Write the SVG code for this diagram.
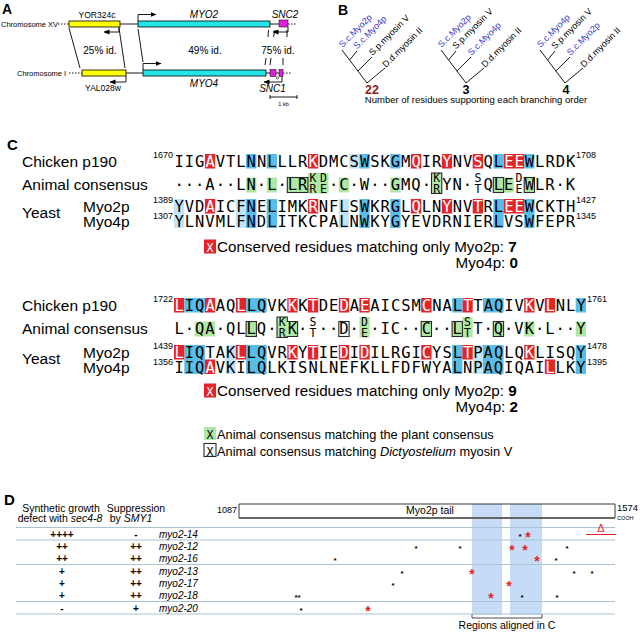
<svg xmlns="http://www.w3.org/2000/svg" width="640" height="634" viewBox="0 0 640 634">
<defs>
<style>
.s{font-family:"Liberation Sans",Arial,sans-serif}
.hd{font-family:"Liberation Sans",Arial,sans-serif;font-weight:bold}
.lbl{font-family:"Liberation Sans",Arial,sans-serif;font-size:15.5px}
.leg{font-family:"Liberation Sans",Arial,sans-serif;font-size:15.2px}
.seq{font-family:"DejaVu Sans Mono",monospace;font-size:15.5px;letter-spacing:0.968px}
.stk{font-family:"DejaVu Sans Mono",monospace;font-size:11.5px;text-anchor:middle}
.sup{font-family:"Liberation Sans",Arial,sans-serif;font-size:9px}
.r{fill:#e5242a}
.db{fill:#58bde9}
.lb{fill:#c4e3f7}
.g{fill:#afe8a5}
.bx{fill:none;stroke:#2a2a2a;stroke-width:1.1}
.w{fill:#fff}
.ln{stroke:#000;stroke-width:0.9;fill:none}
.tl{font-family:"Liberation Sans",Arial,sans-serif;font-size:9px}
.bl{fill:#3a3ac8}
.tb{stroke:#a9c3d3;stroke-width:1}
.d{font-family:"Liberation Sans",Arial,sans-serif;font-size:10.5px}
.pm{font-family:"Liberation Sans",Arial,sans-serif;font-size:10px;font-weight:bold;text-anchor:middle}
.al{font-family:"Liberation Sans",Arial,sans-serif;font-size:10px;font-style:italic}
.ka{font-family:"Liberation Sans",Arial,sans-serif;font-size:8px;text-anchor:middle;font-weight:bold}
.ra{font-family:"Liberation Sans",Arial,sans-serif;font-size:14px;text-anchor:middle;fill:#e5242a;font-weight:bold}
</style>
<marker id="ah" markerWidth="6" markerHeight="6" refX="5.5" refY="3" orient="auto" markerUnits="userSpaceOnUse"><path d="M0,0.6 L6,3 L0,5.4 Z" fill="#000"/></marker>
</defs>
<rect width="640" height="634" fill="#fff"/>

<!-- Panel A -->
<g id="panelA">
<text x="2" y="14" class="hd" font-size="14">A</text>
<g id="chrXV">
<text x="1" y="27" class="s" font-size="7.5">Chromosome XV</text>
<line x1="58" y1="24" x2="69" y2="24" class="ln" stroke-dasharray="1.5,1.5"/>
<line x1="120" y1="24" x2="138" y2="24" class="ln"/>
<line x1="270" y1="24" x2="279" y2="24" class="ln"/>
<line x1="288" y1="24" x2="297" y2="24" class="ln" stroke-dasharray="1.5,1.5"/>
<rect x="69" y="21" width="51" height="6" fill="#ffff00" stroke="#000" stroke-width="0.8"/>
<rect x="138" y="21" width="132" height="6" fill="#22e6e6" stroke="#000" stroke-width="0.8"/>
<rect x="279" y="20" width="9" height="7" fill="#e21ee2" stroke="#000" stroke-width="0.5"/>
<text x="97" y="18" class="s" font-size="8.5" text-anchor="middle">YOR324c</text>
<text x="204" y="18" class="s" font-size="10" font-style="italic" text-anchor="middle">MYO2</text>
<text x="285" y="18" class="s" font-size="10" font-style="italic" text-anchor="middle">SNC2</text>
<path d="M138,21 V14.5 H156" class="ln" marker-end="url(#ah)"/>
<path d="M119,27 V32 H104" class="ln" marker-end="url(#ah)"/>
<path d="M288,27 V32 H273" class="ln" marker-end="url(#ah)"/>
</g>
<g id="chrI">
<text x="17" y="76" class="s" font-size="7.5">Chromosome I</text>
<line x1="69" y1="73" x2="82" y2="73" class="ln" stroke-dasharray="1.5,1.5"/>
<line x1="126" y1="73" x2="143" y2="73" class="ln"/>
<line x1="266" y1="73" x2="283" y2="73" class="ln"/>
<line x1="283" y1="73" x2="292" y2="73" class="ln" stroke-dasharray="1.5,1.5"/>
<rect x="82" y="70" width="44" height="6" fill="#ffff00" stroke="#000" stroke-width="0.8"/>
<rect x="143" y="70" width="123" height="6" fill="#22e6e6" stroke="#000" stroke-width="0.8"/>
<rect x="270" y="69.5" width="6" height="7" fill="#e21ee2" stroke="#000" stroke-width="0.5"/>
<rect x="279" y="69.5" width="4" height="7" fill="#e21ee2" stroke="#000" stroke-width="0.5"/>
<circle cx="277.5" cy="78" r="1.2" fill="#fff" stroke="#000" stroke-width="0.5"/>
<text x="103" y="91" class="s" font-size="8.5" text-anchor="middle">YAL028w</text>
<text x="204" y="87" class="s" font-size="10" font-style="italic" text-anchor="middle">MYO4</text>
<text x="272.5" y="91.5" class="s" font-size="10" font-style="italic" text-anchor="middle">SNC1</text>
<path d="M143,70 V63.5 H161" class="ln" marker-end="url(#ah)"/>
<path d="M126,76 V82 H110" class="ln" marker-end="url(#ah)"/>
<path d="M282,76.5 V82 H264" class="ln" marker-end="url(#ah)"/>
</g>
<g id="homology">
<line x1="69" y1="28" x2="80" y2="68" class="ln" stroke-width="0.7"/>
<line x1="119" y1="28" x2="125" y2="68" class="ln" stroke-width="0.7"/>
<line x1="138" y1="29" x2="143" y2="62" class="ln" stroke-width="0.7"/>
<line x1="268.5" y1="30" x2="268" y2="37" class="ln" stroke-width="0.7"/>
<line x1="275" y1="30" x2="273.5" y2="37" class="ln" stroke-width="0.7"/>
<line x1="287" y1="30" x2="287" y2="37" class="ln" stroke-width="0.7"/>
<line x1="266" y1="58" x2="265" y2="65" class="ln" stroke-width="0.7"/>
<line x1="271" y1="58" x2="270" y2="65" class="ln" stroke-width="0.7"/>
<line x1="283" y1="58" x2="283" y2="65" class="ln" stroke-width="0.7"/>
<text x="100" y="53.5" class="s" font-size="10" text-anchor="middle">25% id.</text>
<text x="205" y="53.5" class="s" font-size="10" text-anchor="middle">49% id.</text>
<text x="278" y="53.5" class="s" font-size="10" text-anchor="middle">75% id.</text>
</g>
<g id="scalebar">
<path d="M270,95 V99 M270,97 H297 M297,95 V99" class="ln" stroke-width="0.7"/>
<text x="283.5" y="106" class="s" font-size="5.5" text-anchor="middle">1 kb</text>
</g>
</g>

<!-- Panel B -->
<g id="panelB">
<text x="338" y="15" class="hd" font-size="14">B</text>
<g id="tree1">
<path d="M342,50 L367,83 L385,68 M349.6,60 L357,51 M357.9,71 L372,57" class="ln"/>
<text transform="translate(342.5,48) rotate(-45)" class="tl bl">S.c.Myo2p</text>
<text transform="translate(357,49.5) rotate(-45)" class="tl bl">S.c.Myo4p</text>
<text transform="translate(372.5,56) rotate(-45)" class="tl">S.p.myosin V</text>
<text transform="translate(386,68) rotate(-45)" class="tl">D.d.myosin II</text>
<text x="372" y="93.5" class="hd" font-size="12.5" text-anchor="middle" fill="#8b1c1c">22</text>
</g>
<g id="tree2">
<path d="M441,50 L466,83 L484,68 M448.6,60 L456,51 M456.9,71 L471,57" class="ln"/>
<text transform="translate(441.5,48) rotate(-45)" class="tl bl">S.c.Myo2p</text>
<text transform="translate(456,49.5) rotate(-45)" class="tl">S.p.myosin V</text>
<text transform="translate(471.5,56) rotate(-45)" class="tl bl">S.c.Myo4p</text>
<text transform="translate(485,68) rotate(-45)" class="tl">D.d.myosin II</text>
<text x="466" y="93.5" class="hd" font-size="12.5" text-anchor="middle">3</text>
</g>
<g id="tree3">
<path d="M540,50 L565,83 L583,68 M547.6,60 L555,51 M555.9,71 L570,57" class="ln"/>
<text transform="translate(540.5,48) rotate(-45)" class="tl bl">S.c.Myo4p</text>
<text transform="translate(555,49.5) rotate(-45)" class="tl">S.p.myosin V</text>
<text transform="translate(570.5,56) rotate(-45)" class="tl bl">S.c.Myo2p</text>
<text transform="translate(584,68) rotate(-45)" class="tl">D.d.myosin II</text>
<text x="566" y="93.5" class="hd" font-size="12.5" text-anchor="middle">4</text>
</g>
<text x="476" y="102.5" class="s" font-size="9.5" text-anchor="middle">Number of residues supporting each branching order</text>
</g>

<!-- Panel C -->
<g id="panelC">
<text x="7" y="150" class="hd" font-size="15">C</text>

<g id="block1">
<text x="22" y="167.3" class="lbl">Chicken p190</text>
<text x="22" y="189.5" class="lbl">Animal consensus</text>
<text x="22" y="218" class="lbl">Yeast</text>
<text x="83" y="211.5" class="lbl">Myo2p</text>
<text x="83" y="227" class="lbl">Myo4p</text>
<text x="173" y="158" class="sup" text-anchor="end">1670</text>
<text x="173" y="203" class="sup" text-anchor="end">1389</text>
<text x="173" y="219" class="sup" text-anchor="end">1307</text>
<text x="576" y="158" class="sup">1708</text>
<text x="576" y="203" class="sup">1427</text>
<text x="576" y="219" class="sup">1345</text>
<g>
<rect class="r" x="204.9" y="154" width="10.3" height="14.5"/>
<rect class="r" x="307.9" y="154" width="10.3" height="14.5"/>
<rect class="r" x="410.9" y="154" width="10.3" height="14.5"/>
<rect class="r" x="441.8" y="154" width="10.3" height="14.5"/>
<rect class="r" x="472.7" y="154" width="10.3" height="14.5"/>
<rect class="r" x="503.6" y="154" width="20.6" height="14.5"/>
<rect class="db" x="246.1" y="154" width="10.3" height="14.5"/>
<rect class="db" x="266.7" y="154" width="10.3" height="14.5"/>
<rect class="lb" x="349.1" y="154" width="10.3" height="14.5"/>
<rect class="db" x="359.4" y="154" width="10.3" height="14.5"/>
<rect class="db" x="390.3" y="154" width="10.3" height="14.5"/>
<rect class="db" x="493.3" y="154" width="10.3" height="14.5"/>
<rect class="db" x="524.2" y="154" width="10.3" height="14.5"/>
</g>
<g>
<rect class="lb" x="174" y="199" width="10.3" height="29"/>
<rect class="lb" x="235.8" y="199" width="10.3" height="29"/>
<rect class="lb" x="338.8" y="199" width="10.3" height="29"/>
<rect class="db" x="246.1" y="199" width="10.3" height="29"/>
<rect class="db" x="266.7" y="199" width="10.3" height="29"/>
<rect class="db" x="359.4" y="199" width="10.3" height="29"/>
<rect class="db" x="390.3" y="199" width="10.3" height="29"/>
<rect class="db" x="493.3" y="199" width="10.3" height="29"/>
<rect class="db" x="524.2" y="199" width="10.3" height="29"/>
<rect class="r" x="204.9" y="199" width="10.3" height="14.5"/>
<rect class="r" x="307.9" y="199" width="10.3" height="14.5"/>
<rect class="r" x="410.9" y="199" width="10.3" height="14.5"/>
<rect class="r" x="441.8" y="199" width="10.3" height="14.5"/>
<rect class="r" x="472.7" y="199" width="10.3" height="14.5"/>
<rect class="r" x="503.6" y="199" width="20.6" height="14.5"/>
</g>
<g>
<rect class="g" x="246.1" y="177.5" width="10.3" height="15"/>
<rect class="g" x="266.7" y="177.5" width="10.3" height="15"/>
<rect class="g" x="287.3" y="177.5" width="20.6" height="15"/>
<rect class="g" x="307.9" y="173" width="20.6" height="20.5"/>
<rect class="g" x="338.8" y="177.5" width="10.3" height="15"/>
<rect class="g" x="390.3" y="177.5" width="10.3" height="15"/>
<rect class="g" x="431.5" y="173" width="10.3" height="20.5"/>
<rect class="g" x="493.3" y="177.5" width="20.6" height="15"/>
<rect class="g" x="524.2" y="177.5" width="10.3" height="15"/>
<rect class="bx" x="287.3" y="177.5" width="20.6" height="15"/>
<rect class="bx" x="431.5" y="173" width="10.3" height="20.5"/>
<rect class="bx" x="493.3" y="177.5" width="10.3" height="15"/>
<rect class="bx" x="524.2" y="177.5" width="10.3" height="15"/>
</g>
<text x="174.48" y="167.3" class="seq">IIG<tspan class="w">A</tspan>VTLNNLLLR<tspan class="w">K</tspan>DMCSWSKGM<tspan class="w">Q</tspan>IR<tspan class="w">Y</tspan>NV<tspan class="w">S</tspan>QL<tspan class="w">EE</tspan>WLRDK</text>
<text x="174.48" y="190" class="seq" xml:space="preserve">···A··LN·L·LR&#160;&#160;·C·W··GMQ·&#160;YN·&#160;QLE&#160;WLR·K</text>
<text x="174.48" y="211.5" class="seq">YVD<tspan class="w">A</tspan>ICFNELIMK<tspan class="w">R</tspan>NFLSWKRGL<tspan class="w">Q</tspan>LN<tspan class="w">Y</tspan>NV<tspan class="w">T</tspan>RL<tspan class="w">EE</tspan>WCKTH</text>
<text x="174.48" y="227" class="seq">YLNVMLFNDLITKCPALNWKYGYEVDRNIERLVSWFEPR</text>
<g class="stk">
<text x="313.05" y="182">K</text><text x="313.05" y="193">R</text>
<text x="323.35" y="182">D</text><text x="323.35" y="193">E</text>
<text x="436.65" y="182">K</text><text x="436.65" y="193">R</text>
<text x="477.85" y="182">S</text><text x="477.85" y="193">T</text>
<text x="519.05" y="182">D</text><text x="519.05" y="193">E</text>
</g>
<rect class="r" x="204" y="239.5" width="12" height="14"/>
<text x="210" y="251.5" class="stk w" font-size="14">X</text>
<text x="217" y="251.5" class="leg">Conserved residues matching only Myo2p: <tspan font-weight="bold">7</tspan></text>
<text x="518" y="268" class="leg" text-anchor="end">Myo4p: <tspan font-weight="bold">0</tspan></text>
</g>

<g id="block2">
<text x="22" y="311.3" class="lbl">Chicken p190</text>
<text x="22" y="333.5" class="lbl">Animal consensus</text>
<text x="22" y="364" class="lbl">Yeast</text>
<text x="83" y="357.5" class="lbl">Myo2p</text>
<text x="83" y="373" class="lbl">Myo4p</text>
<text x="173" y="302" class="sup" text-anchor="end">1722</text>
<text x="173" y="349" class="sup" text-anchor="end">1439</text>
<text x="173" y="365" class="sup" text-anchor="end">1356</text>
<text x="587" y="302" class="sup">1761</text>
<text x="587" y="349" class="sup">1478</text>
<text x="587" y="365" class="sup">1395</text>
<g>
<rect class="r" x="174" y="298" width="10.3" height="14.5"/>
<rect class="r" x="204.9" y="298" width="10.3" height="14.5"/>
<rect class="r" x="235.8" y="298" width="10.3" height="14.5"/>
<rect class="r" x="287.3" y="298" width="10.3" height="14.5"/>
<rect class="r" x="307.9" y="298" width="10.3" height="14.5"/>
<rect class="r" x="338.8" y="298" width="10.3" height="14.5"/>
<rect class="r" x="359.4" y="298" width="10.3" height="14.5"/>
<rect class="r" x="421.2" y="298" width="10.3" height="14.5"/>
<rect class="r" x="462.4" y="298" width="10.3" height="14.5"/>
<rect class="r" x="524.2" y="298" width="10.3" height="14.5"/>
<rect class="r" x="544.8" y="298" width="10.3" height="14.5"/>
<rect class="db" x="184.3" y="298" width="20.6" height="14.5"/>
<rect class="db" x="246.1" y="298" width="20.6" height="14.5"/>
<rect class="db" x="452.1" y="298" width="10.3" height="14.5"/>
<rect class="db" x="483" y="298" width="20.6" height="14.5"/>
<rect class="db" x="575.7" y="298" width="10.3" height="14.5"/>
</g>
<g>
<rect class="db" x="184.3" y="345" width="20.6" height="29"/>
<rect class="db" x="246.1" y="345" width="20.6" height="29"/>
<rect class="db" x="452.1" y="345" width="10.3" height="29"/>
<rect class="db" x="483" y="345" width="20.6" height="29"/>
<rect class="db" x="575.7" y="345" width="10.3" height="29"/>
<rect class="lb" x="225.5" y="345" width="10.3" height="29"/>
<rect class="lb" x="472.7" y="345" width="10.3" height="29"/>
<rect class="r" x="174" y="345" width="10.3" height="14.5"/>
<rect class="r" x="235.8" y="345" width="10.3" height="14.5"/>
<rect class="r" x="287.3" y="345" width="10.3" height="14.5"/>
<rect class="r" x="307.9" y="345" width="10.3" height="14.5"/>
<rect class="r" x="338.8" y="345" width="10.3" height="14.5"/>
<rect class="r" x="359.4" y="345" width="10.3" height="14.5"/>
<rect class="r" x="421.2" y="345" width="10.3" height="14.5"/>
<rect class="r" x="462.4" y="345" width="10.3" height="14.5"/>
<rect class="r" x="524.2" y="345" width="10.3" height="14.5"/>
<rect class="r" x="204.9" y="359.5" width="10.3" height="14.5"/>
<rect class="r" x="544.8" y="359.5" width="10.3" height="14.5"/>
</g>
<g>
<rect class="g" x="194.6" y="321.5" width="20.6" height="15"/>
<rect class="g" x="246.1" y="321.5" width="10.3" height="15"/>
<rect class="g" x="277" y="317" width="10.3" height="20.5"/>
<rect class="g" x="287.3" y="321.5" width="10.3" height="15"/>
<rect class="g" x="359.4" y="317" width="10.3" height="20.5"/>
<rect class="g" x="421.2" y="321.5" width="10.3" height="15"/>
<rect class="g" x="452.1" y="321.5" width="10.3" height="15"/>
<rect class="g" x="462.4" y="317" width="10.3" height="20.5"/>
<rect class="g" x="493.3" y="321.5" width="10.3" height="15"/>
<rect class="g" x="524.2" y="321.5" width="10.3" height="15"/>
<rect class="g" x="575.7" y="321.5" width="10.3" height="15"/>
<rect class="bx" x="246.1" y="321.5" width="10.3" height="15"/>
<path class="bx" d="M277,317 H287.3 V321.5 H297.6 V336.5 H287.3 V337.5 H277 Z"/>
<rect class="bx" x="338.8" y="321.5" width="10.3" height="15"/>
<rect class="bx" x="421.2" y="321.5" width="10.3" height="15"/>
<rect class="bx" x="452.1" y="321.5" width="10.3" height="15"/>
<rect class="bx" x="493.3" y="321.5" width="10.3" height="15"/>
</g>
<text x="174.48" y="311.3" class="seq"><tspan class="w">L</tspan>IQ<tspan class="w">A</tspan>AQ<tspan class="w">L</tspan>LQVK<tspan class="w">K</tspan>K<tspan class="w">T</tspan>DE<tspan class="w">D</tspan>A<tspan class="w">E</tspan>AICSM<tspan class="w">C</tspan>NAL<tspan class="w">T</tspan>TAQIV<tspan class="w">K</tspan>V<tspan class="w">L</tspan>NLY</text>
<text x="174.48" y="334" class="seq" xml:space="preserve">L·QA·QLLQ·&#160;K·&#160;··D·&#160;·IC··C··L&#160;T·Q·VK·L··Y</text>
<text x="174.48" y="357.5" class="seq"><tspan class="w">L</tspan>IQTAK<tspan class="w">L</tspan>LQVR<tspan class="w">K</tspan>Y<tspan class="w">T</tspan>IE<tspan class="w">D</tspan>I<tspan class="w">D</tspan>ILRGI<tspan class="w">C</tspan>YSL<tspan class="w">T</tspan>PAQLQ<tspan class="w">K</tspan>LISQY</text>
<text x="174.48" y="373" class="seq">IIQ<tspan class="w">A</tspan>VKILQLKISNLNEFKLLFDFWYALNPAQIQAI<tspan class="w">L</tspan>LKY</text>
<g class="stk">
<text x="282.15" y="326">K</text><text x="282.15" y="337">R</text>
<text x="313.05" y="326">S</text><text x="313.05" y="337">T</text>
<text x="364.55" y="326">D</text><text x="364.55" y="337">E</text>
<text x="467.55" y="326">S</text><text x="467.55" y="337">T</text>
</g>
<rect class="r" x="204" y="383.5" width="12" height="14"/>
<text x="210" y="395.5" class="stk w" font-size="14">X</text>
<text x="217" y="395.5" class="leg">Conserved residues matching only Myo2p: <tspan font-weight="bold">9</tspan></text>
<text x="518" y="412" class="leg" text-anchor="end">Myo4p: <tspan font-weight="bold">2</tspan></text>
</g>

<g id="legend">
<rect class="g" x="204" y="427" width="12" height="13"/>
<text x="210" y="439" class="stk" font-size="14">X</text>
<text x="217" y="439" class="s" font-size="12.8">Animal consensus matching the plant consensus</text>
<rect class="bx" x="204" y="443.5" width="12" height="13"/>
<text x="210" y="455.5" class="stk" font-size="14">X</text>
<text x="217" y="455.5" class="s" font-size="12.8">Animal consensus matching <tspan font-style="italic">Dictyostelium</tspan> myosin V</text>
</g>
</g>

<!-- Panel D -->
<g id="panelD">
<text x="4" y="505" class="hd" font-size="15">D</text>
<text x="61" y="512" class="d" text-anchor="middle">Synthetic growth</text>
<text x="60" y="522" class="d" text-anchor="middle">defect with <tspan font-style="italic">sec4-8</tspan></text>
<text x="136" y="512" class="d" text-anchor="middle">Suppression</text>
<text x="131" y="522" class="d" text-anchor="middle">by <tspan font-style="italic">SMY1</tspan></text>

<g id="tailbox">
<rect x="472" y="504" width="30" height="111" fill="#c6dbf5"/>
<rect x="510" y="504" width="32" height="111" fill="#c6dbf5"/>
<path d="M239,504 H615 V518" fill="none" stroke="#222" stroke-width="0.9"/>
<path d="M239,504 V518" fill="none" stroke="#222" stroke-width="0.9"/>
<line x1="239" y1="518" x2="615" y2="518" stroke="#666" stroke-width="1.8"/>
<text x="237" y="513" class="s" font-size="9" text-anchor="end">1087</text>
<text x="617" y="511" class="s" font-size="9.5">1574</text>
<text x="617" y="520" class="s" font-size="5.5">COOH</text>
<text x="430" y="514" class="d" text-anchor="middle">Myo2p tail</text>
</g>
<g id="rules">
<line x1="16" y1="527.5" x2="615" y2="527.5" class="tb"/>
<line x1="16" y1="540" x2="615" y2="540" class="tb"/>
<line x1="16" y1="564.5" x2="615" y2="564.5" class="tb"/>
<line x1="16" y1="601.5" x2="615" y2="601.5" class="tb"/>
<line x1="16" y1="614" x2="615" y2="614" class="tb"/>
</g>
<g id="rows">
<text x="62" y="537.5" class="pm">++++</text><text x="136" y="537.5" class="pm">-</text><text x="159" y="537.5" class="al">myo2-14</text>
<text x="62" y="549.5" class="pm">++</text><text x="136" y="549.5" class="pm">++</text><text x="159" y="549.5" class="al">myo2-12</text>
<text x="62" y="561.5" class="pm">++</text><text x="136" y="561.5" class="pm">++</text><text x="159" y="561.5" class="al">myo2-16</text>
<text x="62" y="574.5" class="pm">+</text><text x="136" y="574.5" class="pm">++</text><text x="159" y="574.5" class="al">myo2-13</text>
<text x="62" y="586.5" class="pm">+</text><text x="136" y="586.5" class="pm">++</text><text x="159" y="586.5" class="al">myo2-17</text>
<text x="62" y="598.5" class="pm">+</text><text x="136" y="598.5" class="pm">++</text><text x="159" y="598.5" class="al">myo2-18</text>
<text x="62" y="611.5" class="pm">-</text><text x="136" y="611.5" class="pm">+</text><text x="159" y="611.5" class="al">myo2-20</text>
</g>
<g id="mutations">
<text x="520" y="538.5" class="ka">*</text><text x="528" y="542" class="ra">*</text>
<text x="416" y="550.5" class="ka">*</text><text x="460" y="550.5" class="ka">*</text><text x="512" y="554.5" class="ra">*</text><text x="525" y="554.5" class="ra">*</text><text x="567" y="550.5" class="ka">*</text>
<text x="335" y="562.5" class="ka">*</text><text x="537" y="566" class="ra">*</text><text x="556" y="562.5" class="ka">*</text>
<text x="402" y="575.5" class="ka">*</text><text x="472" y="579" class="ra">*</text><text x="574" y="575.5" class="ka">*</text><text x="592" y="575.5" class="ka">*</text>
<text x="393" y="587.5" class="ka">*</text><text x="509" y="591" class="ra">*</text>
<text x="297.5" y="599.5" class="ka">**</text><text x="491" y="603" class="ra">*</text><text x="522" y="599.5" class="ka">*</text><text x="557" y="599.5" class="ka">*</text>
<text x="301" y="612.5" class="ka">*</text><text x="368" y="616" class="ra">*</text>
</g>
<g id="deletion">
<text x="601" y="531.5" class="s" font-size="11" fill="#e5242a" text-anchor="middle">Δ</text>
<line x1="586" y1="534.5" x2="616" y2="534.5" stroke="#e5242a" stroke-width="1"/>
</g>
<g id="bracket">
<path d="M472,614.5 V618 H542 V614.5" fill="none" stroke="#333" stroke-width="0.9"/>
<text x="507" y="629" class="d" text-anchor="middle">Regions aligned in C</text>
</g>
</g>
</svg>
